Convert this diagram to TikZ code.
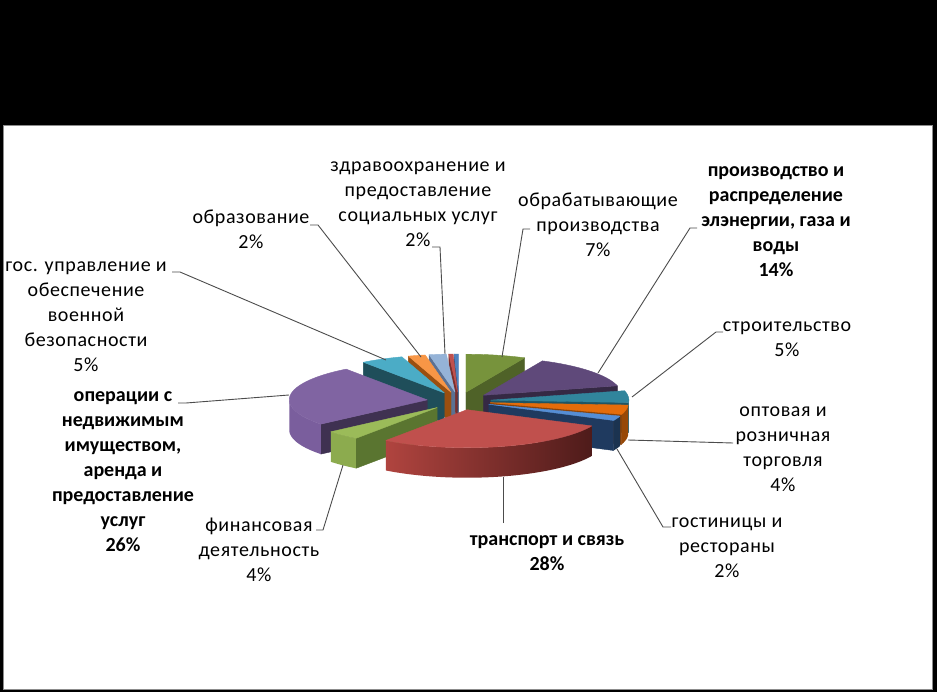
\documentclass[tikz,border=0pt]{standalone}
\usepackage{fontspec}
\setmainfont{Carlito}
\newfontfamily\regf[LetterSpace=3]{Carlito}
\definecolor{gT}{HTML}{77933C}\definecolor{gF}{HTML}{4F6228}
\definecolor{pqT}{HTML}{5F497A}\definecolor{pqF}{HTML}{352944}
\definecolor{tfT}{HTML}{31859C}\definecolor{tfS}{HTML}{2B7789}\definecolor{tfF}{HTML}{1F5563}
\definecolor{ofT}{HTML}{E46C0A}\definecolor{ofS}{HTML}{974806}\definecolor{ofF}{HTML}{8A4207}
\definecolor{btT}{HTML}{558ED5}\definecolor{btS}{HTML}{1B3350}\definecolor{btF}{HTML}{1F3A5F}
\definecolor{rT}{HTML}{C0504D}\definecolor{rL}{HTML}{B0443F}\definecolor{rR}{HTML}{4E1B1A}\definecolor{rF}{HTML}{7A2F2D}
\definecolor{lgT}{HTML}{9BBB59}\definecolor{lgS}{HTML}{8CAB4E}\definecolor{lgF}{HTML}{5A7530}
\definecolor{opT}{HTML}{8064A2}\definecolor{opS}{HTML}{7A5E9D}\definecolor{opF}{HTML}{3F3151}
\definecolor{tgT}{HTML}{4BACC6}\definecolor{tgF}{HTML}{1F4E5A}
\definecolor{oeT}{HTML}{F79646}\definecolor{oeF}{HTML}{9A4F10}
\definecolor{hT}{HTML}{95B3D7}\definecolor{hF}{HTML}{5B7193}
\definecolor{rsT}{HTML}{C0504D}\definecolor{rsF}{HTML}{7A2F2D}
\definecolor{bsT}{HTML}{4F81BD}\definecolor{bsF}{HTML}{2C4D75}
% #1 start angle, #2 end angle (clockwise from 12 o'clock), #3 top colour, #4 outer side style, #5 radial face colour
\newcommand\drawslice[5]{%
  \pgfmathsetmacro\sliceMid{(#1+#2)/2}%
  \pgfmathsetmacro\sliceAx{459+32*sin(\sliceMid)}%
  \pgfmathsetmacro\sliceAy{401-9*cos(\sliceMid)}%
  \pgfmathtruncatemacro\sliceSV{and(#1>180,#1<360)}%
  \pgfmathtruncatemacro\sliceEV{and(#2>0,#2<180)}%
  \pgfmathsetmacro\sliceLo{max(#1,90)}%
  \pgfmathsetmacro\sliceHi{min(#2,270)}%
  \pgfmathtruncatemacro\sliceOV{\sliceLo<\sliceHi}%
  \ifnum\sliceSV=1
    \filldraw[fill=#5,draw=#5,line width=0.4pt,line join=round] (\sliceAx,\sliceAy) -- ({\sliceAx+138*sin(#1)},{\sliceAy-38*cos(#1)}) -- ({\sliceAx+138*sin(#1)},{\sliceAy-38*cos(#1)+30}) -- (\sliceAx,{\sliceAy+30}) -- cycle;
  \fi
  \ifnum\sliceEV=1
    \filldraw[fill=#5,draw=#5,line width=0.4pt,line join=round] (\sliceAx,\sliceAy) -- ({\sliceAx+138*sin(#2)},{\sliceAy-38*cos(#2)}) -- ({\sliceAx+138*sin(#2)},{\sliceAy-38*cos(#2)+30}) -- (\sliceAx,{\sliceAy+30}) -- cycle;
  \fi
  \ifnum\sliceOV=1
    \path[#4] plot[domain=\sliceLo:\sliceHi,samples=60] ({\sliceAx+138*sin(\x)},{\sliceAy-38*cos(\x)}) -- plot[domain=\sliceHi:\sliceLo,samples=60] ({\sliceAx+138*sin(\x)},{\sliceAy-38*cos(\x)+30}) -- cycle;
  \fi
  \filldraw[fill=#3,draw=#3,line width=0.4pt,line join=round] (\sliceAx,\sliceAy) -- plot[domain=#1:#2,samples=60] ({\sliceAx+138*sin(\x)},{\sliceAy-38*cos(\x)}) -- cycle;
}
\begin{document}
\begin{tikzpicture}[x=1pt,y=-1pt,
  lbl/.style={align=center,inner sep=0pt,font=\regf\fontsize{20}{25}\selectfont},
  blbl/.style={align=center,inner sep=0pt,font=\fontsize{20}{25}\selectfont\bfseries},
  leader/.style={draw=black!70,line width=0.9pt,line join=miter}]
\useasboundingbox (0,0) rectangle (937,692);
\fill[black] (0,0) rectangle (937,692);
\filldraw[fill=white,draw=black!45,line width=1.2pt] (3.6,125.6) rectangle (932.4,689.4);
% pie, back to front
\drawslice{358.2}{360}{bsT}{fill=bsF}{bsF}
\drawslice{356.4}{358.2}{rsT}{fill=rsF}{rsF}
\drawslice{349.2}{356.4}{hT}{fill=hF}{hF}
\drawslice{0}{25.2}{gT}{fill=gF}{gF}
\drawslice{342}{349.2}{oeT}{fill=oeF}{oeF}
\drawslice{324}{342}{tgT}{fill=tgF}{tgF}
\drawslice{25.2}{75.6}{pqT}{fill=pqF}{pqF}
\drawslice{230.4}{324}{opT}{fill=opS}{opF}
\drawslice{75.6}{93.6}{tfT}{fill=tfS}{tfF}
\drawslice{93.6}{108}{ofT}{fill=ofS}{ofF}
\drawslice{108}{115.2}{btT}{fill=btS}{btF}
\drawslice{216}{230.4}{lgT}{fill=lgS}{lgF}
\drawslice{115.2}{216}{rT}{left color=rL,right color=rR}{rF}
% labels
\node[lbl] (gos) at (86,317) {гос. управление и\\обеспечение\\военной\\безопасности\\5\%};
\node[lbl] (obraz) at (251,229.5) {образование\\2\%};
\node[lbl] (zdrav) at (418,204.5) {здравоохранение и\\предоставление\\социальных услуг\\2\%};
\node[lbl] (obrab) at (598,225) {обрабатывающие\\производства\\7\%};
\node[blbl] (proizv) at (776,222) {производство и\\распределение\\элэнергии, газа и\\воды\\14\%};
\node[lbl] (stroi) at (787,339.5) {строительство\\5\%};
\node[lbl] (opt) at (783,449.5) {оптовая и\\розничная\\торговля\\4\%};
\node[lbl] (gost) at (727,548) {гостиницы и\\рестораны\\2\%};
\node[blbl] (trans) at (547,553.5) {транспорт и связь\\28\%};
\node[lbl] (fin) at (259,550) {финансовая\\деятельность\\4\%};
\node[blbl] (oper) at (123,472) {операции с\\недвижимым\\имуществом,\\аренда и\\предоставление\\услуг\\26\%};
% leader end points
\coordinate (gosA) at (172,272);   \coordinate (gosB) at (386,360);
\coordinate (obrazA) at (310,225); \coordinate (obrazB) at (421,357);
\coordinate (zdravA) at (432,247); \coordinate (zdravB) at (445,354);
\coordinate (obrabA) at (530,229); \coordinate (obrabB) at (502,357);
\coordinate (proizvA) at (697,228);\coordinate (proizvB) at (598,373);
\coordinate (stroiA) at (723,332); \coordinate (stroiB) at (632,397);
\coordinate (optA) at (733,443);   \coordinate (optB) at (628,440);
\coordinate (gostA) at (671,527);  \coordinate (gostB) at (617,449);
\coordinate (transA) at (503,523); \coordinate (transB) at (503,477);
\coordinate (finA) at (316,530);   \coordinate (finB) at (343,465);
\coordinate (operA) at (178,403);  \coordinate (operB) at (289,395);
\draw[leader] (gosA) -- ++(8,0) -- (gosB);
\draw[leader] (obrazA) -- ++(8,0) -- (obrazB);
\draw[leader] (zdravA) -- ++(8,0) -- (zdravB);
\draw[leader] (obrabA) -- ++(-7,0) -- (obrabB);
\draw[leader] (proizvA) -- ++(-7,0) -- (proizvB);
\draw[leader] (stroiA) -- ++(-7,0) -- (stroiB);
\draw[leader] (optA) -- (optB);
\draw[leader] (gostA) -- ++(-8,0) -- (gostB);
\draw[leader] (transA) -- (transB);
\draw[leader] (finA) -- ++(7,0) -- (finB);
\draw[leader] (operA) -- ++(8,0) -- (operB);
\end{tikzpicture}
\end{document}
